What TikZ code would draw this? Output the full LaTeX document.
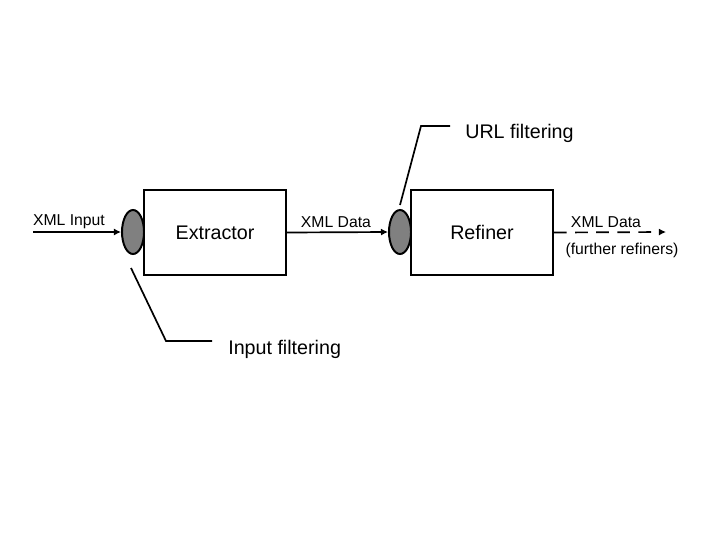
\documentclass[tikz,border=0pt]{standalone}
\usepackage{fontspec}
\setmainfont{Liberation Sans}
\usepackage{xcolor}
\usetikzlibrary{shapes.geometric, arrows.meta, positioning}
\definecolor{FilterGrey}{HTML}{808080}

\begin{document}
\begin{tikzpicture}[x=0.025cm, y=-0.025cm,
    stage/.style={draw, line width=1.4pt, minimum width=3.55cm, minimum height=2.12cm, font=\fontsize{14}{16}\selectfont},
    filter/.style={draw, ellipse, fill=FilterGrey, line width=1.4pt, minimum width=0.55cm, minimum height=1.1cm, inner sep=0pt},
    flow/.style={line width=1.2pt, -{Latex[length=5pt, width=5pt]}},
    small/.style={font=\fontsize{11.2}{13}\selectfont, inner sep=0pt},
    lead/.style={line width=1.2pt}]
      \useasboundingbox (0,0) rectangle (720,540);
      \node[stage] (extractor) at (215,232.5) {Extractor};
      \node[stage] (refiner) at (482,232.5) {Refiner};
      \node[filter] (inflt) at (133,232) {};
      \node[filter] (urlflt) at (400,232) {};
      \coordinate (in) at (33,232);
      \coordinate (out) at (666,232);
      
      \draw[flow] (in) -- (inflt.west);
      \draw[flow] (extractor.east) -- (urlflt.west);
      \draw[flow, dashed, dash pattern=on 9pt off 6pt] (refiner.east) -- (out);
      
      \node[small] (inlbl) at (69,222) {XML Input};
      \node[small] (datalbl) at (336,222) {XML Data};
      \node[small] (outlbl) at (606,222) {XML Data};
      \node[small] (furtherlbl) at (622,250) {(further refiners)};
      
      % leader lines to the filter labels
      \node[anchor=west, font=\fontsize{14}{16}\selectfont, inner sep=0pt] (inlead) at (228,349) {Input filtering};
      \node[anchor=west, font=\fontsize{14}{16}\selectfont, inner sep=0pt] (urllead) at (465,133) {URL filtering};
      \coordinate (inA) at (131,268);
      \coordinate (urlA) at (400,205);
      \draw[lead] (inA) -- (166,341) -- (212,341);
      \draw[lead] (urlA) -- (421,126) -- (450,126);
\end{tikzpicture}
\end{document}
